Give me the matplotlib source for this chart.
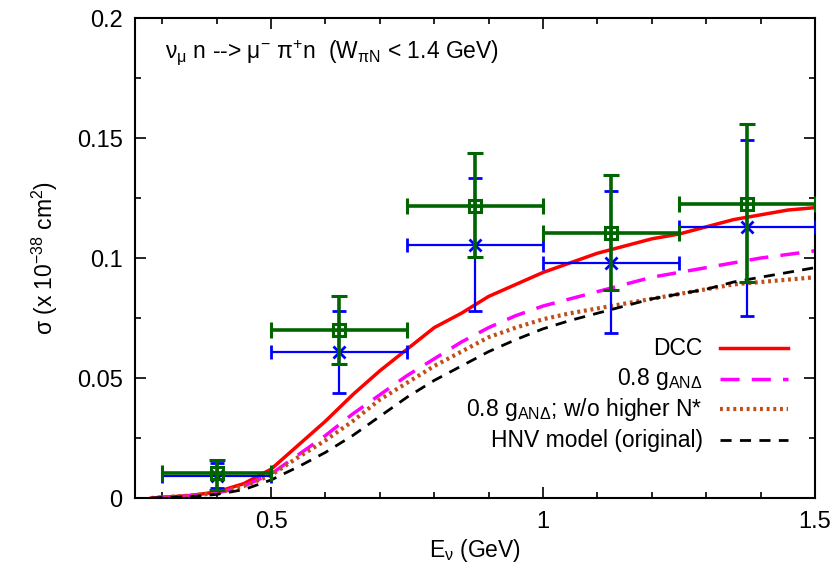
import matplotlib
matplotlib.use("Agg")
import matplotlib.pyplot as plt
from matplotlib.ticker import MultipleLocator

plt.rcParams['font.family'] = ['Liberation Sans', 'DejaVu Sans']
plt.rcParams['mathtext.fontset'] = 'custom'
plt.rcParams['mathtext.rm'] = 'Liberation Sans'
plt.rcParams['mathtext.it'] = 'Liberation Sans'
plt.rcParams['mathtext.bf'] = 'Liberation Sans:bold'

FS = 16.5

# model curves, sigma in 1e-38 cm^2 vs E_nu (GeV)
e_nu = [0.28, 0.30, 0.35, 0.40, 0.45, 0.50, 0.55, 0.60, 0.65, 0.70, 0.75, 0.80, 0.85,
        0.90, 0.95, 1.00, 1.05, 1.10, 1.15, 1.20, 1.25, 1.30, 1.35, 1.40, 1.45, 1.50]
dcc = [0.0, 0.0003, 0.001, 0.0025, 0.006, 0.012, 0.022, 0.032, 0.043, 0.053, 0.062, 0.071, 0.077,
       0.084, 0.089, 0.094, 0.098, 0.102, 0.105, 0.108, 0.110, 0.113, 0.116, 0.118, 0.120, 0.121]
dcc_08g = [0.0, 0.0003, 0.001, 0.002, 0.005, 0.010, 0.018, 0.026, 0.035, 0.043, 0.051, 0.058, 0.065,
           0.071, 0.076, 0.080, 0.083, 0.086, 0.089, 0.092, 0.094, 0.096, 0.098, 0.100, 0.1015, 0.103]
dcc_08g_noN = [0.0, 0.0003, 0.001, 0.002, 0.005, 0.0095, 0.017, 0.024, 0.032, 0.041, 0.048, 0.055, 0.061,
               0.067, 0.071, 0.0745, 0.077, 0.079, 0.081, 0.083, 0.085, 0.087, 0.089, 0.090, 0.091, 0.092]
hnv = [0.0, 0.0002, 0.0005, 0.0015, 0.0035, 0.0075, 0.013, 0.019, 0.026, 0.034, 0.042, 0.049, 0.055,
       0.061, 0.066, 0.0705, 0.074, 0.077, 0.080, 0.083, 0.085, 0.087, 0.090, 0.092, 0.094, 0.096]

# data points (bin centres, half widths)
bin_e = [0.40, 0.625, 0.875, 1.125, 1.375]
bin_half = [0.10, 0.125, 0.125, 0.125, 0.125]
blue_y = [0.0092, 0.061, 0.1054, 0.098, 0.1128]
blue_lo = [0.0050, 0.0173, 0.0274, 0.0292, 0.0368]
blue_hi = [0.0054, 0.0170, 0.0279, 0.0300, 0.0362]
green_y = [0.0104, 0.070, 0.1218, 0.1104, 0.1224]
green_lo = [0.0071, 0.0140, 0.0214, 0.0237, 0.0324]
green_hi = [0.0054, 0.0140, 0.0219, 0.0242, 0.0334]

x_ticks = [0.5, 1.0, 1.5]
x_ticklabels = ['0.5', '1', '1.5']
y_ticks = [0, 0.05, 0.1, 0.15, 0.2]
y_ticklabels = ['0', '0.05', '0.1', '0.15', '0.2']

fig = plt.figure(figsize=(8.36, 5.70), dpi=100)
ax = fig.add_axes([0.1615, 0.1263, 0.8134, 0.842])

ax.errorbar(bin_e, blue_y, xerr=bin_half, yerr=[blue_lo, blue_hi], fmt='x', color='#0000ff',
            ms=9, mew=2, elinewidth=1.6, capsize=5, capthick=1.6, zorder=3)
ax.errorbar(bin_e, green_y, xerr=bin_half, yerr=[green_lo, green_hi], fmt='s', color='#006400',
            mfc='none', ms=9, mew=2.2, elinewidth=2.6, capsize=5.5, capthick=2.6, zorder=4)
ax.plot(bin_e, green_y, '+', color='#006400', ms=9, mew=1.8, zorder=5)

styles = [
    (dcc, 'DCC', dict(color='#ff0000', lw=2.5, ls='-')),
    (dcc_08g, '0.8 g$_{\\mathrm{AN\u0394}}$', dict(color='#ff00ff', lw=2.5, ls=(0, (5.5, 3.5)))),
    (dcc_08g_noN, '0.8 g$_{\\mathrm{AN\u0394}}$; w/o higher N*', dict(color='#c0501a', lw=3, ls=(0, (0.7, 0.9)))),
    (hnv, 'HNV model (original)', dict(color='#000000', lw=2, ls=(0, (4, 3)))),
]
for i, (ys, label, kw) in enumerate(styles):
    ax.plot(e_nu, ys, zorder=2, **kw)
    # key drawn right-aligned, sample line to the right of the text
    yk = 0.3125 - 0.064 * i
    ax.text(0.835, yk, label, transform=ax.transAxes, ha='right', va='center', fontsize=FS)
    ax.plot([0.860, 0.961], [yk, yk], transform=ax.transAxes, **kw)

ax.text(0.044, 0.927, '\u03bd$_{\\mathrm{\u03bc}}$ n --> \u03bc$^{\\mathrm{-}}$ \u03c0$^{\\mathrm{+}}$n  (W$_{\\mathrm{\u03c0N}}$ < 1.4 GeV)',
        transform=ax.transAxes, ha='left', va='center', fontsize=FS)

ax.set_xlim(0.25, 1.5)
ax.set_ylim(0, 0.2)
ax.set_xticks(x_ticks)
ax.set_xticklabels(x_ticklabels)
ax.set_yticks(y_ticks)
ax.set_yticklabels(y_ticklabels)
ax.xaxis.set_minor_locator(MultipleLocator(0.1))
ax.yaxis.set_minor_locator(MultipleLocator(0.025))
ax.tick_params(which='both', direction='in', top=True, right=True, labelsize=FS + 0.5, pad=9)
ax.tick_params(which='major', length=8, width=1.2)
ax.tick_params(which='minor', length=4, width=1.2)
for s in ax.spines.values():
    s.set_linewidth(1.5)

ax.set_xlabel('E$_{\\mathrm{\u03bd}}$ (GeV)', fontsize=FS, labelpad=3)
ax.set_ylabel('\u03c3 (x 10$^{\\mathrm{-38}}$ cm$^{\\mathrm{2}}$)', fontsize=FS, labelpad=12)

fig.savefig('out.png', dpi=100)
